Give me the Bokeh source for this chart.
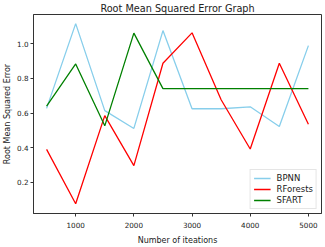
from bokeh.plotting import figure
from bokeh.models import Range1d, FixedTicker, Legend, LegendItem, NumeralTickFormatter
from bokeh.embed import file_html
from bokeh.resources import INLINE

iterations = [500, 1000, 1500, 2000, 2500, 3000, 3500, 4000, 4500, 5000]
bpnn = [0.627, 1.117, 0.614, 0.511, 1.077, 0.625, 0.625, 0.636, 0.522, 0.99]
rforests = [0.39, 0.075, 0.585, 0.296, 0.888, 1.064, 0.677, 0.392, 0.888, 0.535]
sfart = [0.64, 0.884, 0.526, 1.062, 0.741, 0.741, 0.741, 0.741, 0.741, 0.741]
x_ticks = [1000, 2000, 3000, 4000, 5000]
y_ticks = [0.2, 0.4, 0.6, 0.8, 1.0]

FONT = "DejaVu Sans"

p = figure(width=325, height=247, output_backend="svg", toolbar_location=None,
           x_range=Range1d(275, 5225), y_range=Range1d(0.019, 1.17),
           title="Root Mean Squared Error Graph",
           min_border_left=0, min_border_right=4, min_border_top=0, min_border_bottom=0)

p.title.align = "center"
p.title.text_font = FONT
p.title.text_font_size = "9.7px"
p.title.text_font_style = "normal"
p.title.text_color = "#222222"
p.title.standoff = 1

r1 = p.line(iterations, bpnn, line_color="skyblue", line_width=1.3)
r2 = p.line(iterations, rforests, line_color="red", line_width=1.3)
r3 = p.line(iterations, sfart, line_color="green", line_width=1.3)

legend = Legend(items=[LegendItem(label="BPNN", renderers=[r1]),
                       LegendItem(label="RForests", renderers=[r2]),
                       LegendItem(label="SFART", renderers=[r3])],
                location="bottom_right")
legend.label_text_font = FONT
legend.label_text_font_size = "8.5px"
legend.label_text_color = "#222222"
legend.glyph_width = 17
legend.glyph_height = 10
legend.label_height = 10
legend.label_standoff = 6
legend.spacing = 1
legend.padding = 3
legend.margin = 4
legend.border_line_color = "#cccccc"
legend.border_line_width = 1
legend.background_fill_alpha = 0.8
p.add_layout(legend)

p.xgrid.visible = False
p.ygrid.visible = False
p.outline_line_color = "#333333"
p.outline_line_width = 1

p.xaxis.ticker = FixedTicker(ticks=x_ticks)
p.yaxis.ticker = FixedTicker(ticks=y_ticks)
p.yaxis.formatter = NumeralTickFormatter(format="0.0")
p.xaxis.axis_label = "Number of iteations"
p.yaxis.axis_label = "Root Mean Squared Error"
for ax in (p.xaxis, p.yaxis):
    ax.minor_tick_line_color = None
    ax.major_tick_in = 0
    ax.major_tick_out = 3
    ax.axis_line_color = "#333333"
    ax.major_tick_line_color = "#333333"
    ax.major_label_text_font = FONT
    ax.major_label_text_font_size = "7.2px"
    ax.major_label_text_color = "#222222"
    ax.axis_label_text_font = FONT
    ax.axis_label_text_font_size = "8px"
    ax.axis_label_text_font_style = "normal"
    ax.axis_label_text_color = "#222222"
p.xaxis.major_label_standoff = 5
p.xaxis.axis_label_standoff = 5
p.yaxis.major_label_standoff = 2
p.yaxis.axis_label_standoff = 2

open("out.html", "w").write(file_html(p, INLINE))
